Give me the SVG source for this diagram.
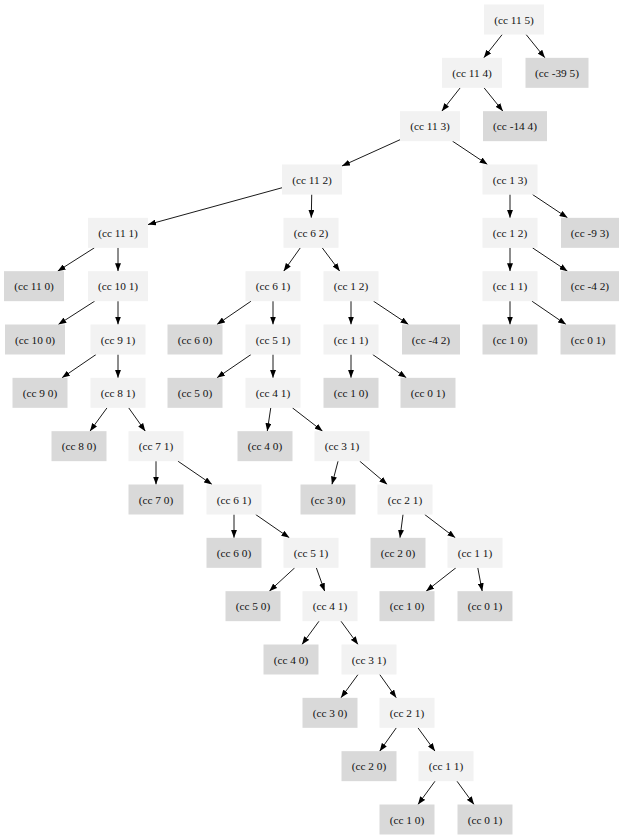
<svg xmlns="http://www.w3.org/2000/svg" width="623" height="840" viewBox="0 0 623 840" font-family="'Liberation Serif', 'Times New Roman', serif" font-size="11.3">
<style>
rect{stroke:none}
.i rect{fill:#f2f2f2}
.l rect{fill:#d9d9d9}
text{font-family:'Liberation Serif','Times New Roman',serif;font-size:11.3px;fill:#111;text-anchor:middle}
#edges line{stroke:#000;stroke-width:0.9;marker-end:url(#a)}
</style>
<defs>
<marker id="a" markerWidth="8" markerHeight="6" refX="8" refY="3" orient="auto" markerUnits="userSpaceOnUse"><path d="M0,0 L8,3 L0,6 z" fill="#000"/></marker>
</defs>
<rect x="0" y="0" width="623" height="840" fill="#fff"/>
<g id="edges">
<line x1="502.19" y1="34.5" x2="483.81" y2="57.83"/>
<line x1="526.09" y1="34.5" x2="544.91" y2="57.83"/>
<line x1="460.19" y1="87.83" x2="441.81" y2="111.17"/>
<line x1="484.09" y1="87.83" x2="502.91" y2="111.17"/>
<line x1="400" y1="139.73" x2="342" y2="165.94"/>
<line x1="452.5" y1="141.17" x2="487.5" y2="164.5"/>
<line x1="282" y1="187.75" x2="148" y2="224.58"/>
<line x1="311.72" y1="194.5" x2="311.28" y2="217.83"/>
<line x1="510" y1="194.5" x2="510" y2="217.83"/>
<line x1="532.5" y1="194.5" x2="567.5" y2="217.83"/>
<line x1="94.37" y1="247.83" x2="57.63" y2="271.17"/>
<line x1="118" y1="247.83" x2="118" y2="271.17"/>
<line x1="300.31" y1="247.83" x2="283.69" y2="271.17"/>
<line x1="322.25" y1="247.83" x2="339.75" y2="271.17"/>
<line x1="510" y1="247.83" x2="510" y2="271.17"/>
<line x1="532.5" y1="247.83" x2="567.5" y2="271.17"/>
<line x1="94.66" y1="301.17" x2="58.34" y2="324.5"/>
<line x1="118" y1="301.17" x2="118" y2="324.5"/>
<line x1="251.06" y1="301.17" x2="216.94" y2="324.5"/>
<line x1="273" y1="301.17" x2="273" y2="324.5"/>
<line x1="351" y1="301.17" x2="351" y2="324.5"/>
<line x1="373.5" y1="301.17" x2="408.5" y2="324.5"/>
<line x1="510" y1="301.17" x2="510" y2="324.5"/>
<line x1="531.94" y1="301.17" x2="566.06" y2="324.5"/>
<line x1="96.06" y1="354.5" x2="61.94" y2="377.83"/>
<line x1="118" y1="354.5" x2="118" y2="377.83"/>
<line x1="251.06" y1="354.5" x2="216.94" y2="377.83"/>
<line x1="273" y1="354.5" x2="273" y2="377.83"/>
<line x1="351" y1="354.5" x2="351" y2="377.83"/>
<line x1="372.66" y1="354.5" x2="406.34" y2="377.83"/>
<line x1="107.03" y1="407.83" x2="89.97" y2="431.17"/>
<line x1="128.69" y1="407.83" x2="145.31" y2="431.17"/>
<line x1="270.75" y1="407.83" x2="267.25" y2="431.17"/>
<line x1="292.41" y1="407.83" x2="322.59" y2="431.17"/>
<line x1="156" y1="461.17" x2="156" y2="484.5"/>
<line x1="177.94" y1="461.17" x2="212.06" y2="484.5"/>
<line x1="338.06" y1="461.17" x2="331.94" y2="484.5"/>
<line x1="359.72" y1="461.17" x2="387.28" y2="484.5"/>
<line x1="234" y1="514.5" x2="234" y2="537.83"/>
<line x1="255.66" y1="514.5" x2="289.34" y2="537.83"/>
<line x1="403.03" y1="514.5" x2="399.97" y2="537.83"/>
<line x1="424.69" y1="514.5" x2="455.31" y2="537.83"/>
<line x1="294.69" y1="567.83" x2="269.31" y2="591.17"/>
<line x1="316.34" y1="567.83" x2="324.66" y2="591.17"/>
<line x1="455.87" y1="567.83" x2="426.13" y2="591.17"/>
<line x1="477.81" y1="567.83" x2="482.19" y2="591.17"/>
<line x1="319.03" y1="621.17" x2="301.97" y2="644.5"/>
<line x1="340.97" y1="621.17" x2="358.03" y2="644.5"/>
<line x1="358.03" y1="674.5" x2="340.97" y2="697.83"/>
<line x1="379.69" y1="674.5" x2="396.31" y2="697.83"/>
<line x1="396.31" y1="727.83" x2="379.69" y2="751.17"/>
<line x1="417.97" y1="727.83" x2="435.03" y2="751.17"/>
<line x1="435.03" y1="781.17" x2="417.97" y2="804.5"/>
<line x1="456.97" y1="781.17" x2="474.03" y2="804.5"/>
</g>
<g id="n0" class="i"><rect x="484" y="4.5" width="60" height="30"/><text x="514" y="23.5">(cc 11 5)</text></g>
<g id="n1" class="i"><rect x="442" y="57.83" width="60" height="30"/><text x="472" y="76.8">(cc 11 4)</text></g>
<g id="n2" class="l"><rect x="525.5" y="57.83" width="63" height="30"/><text x="557" y="76.8">(cc -39 5)</text></g>
<g id="n3" class="i"><rect x="400" y="111.17" width="60" height="30"/><text x="430" y="130.2">(cc 11 3)</text></g>
<g id="n4" class="l"><rect x="483" y="111.17" width="64" height="30"/><text x="515" y="130.2">(cc -14 4)</text></g>
<g id="n5" class="i"><rect x="282" y="164.5" width="60" height="30"/><text x="312" y="183.5">(cc 11 2)</text></g>
<g id="n6" class="i"><rect x="482.5" y="164.5" width="55" height="30"/><text x="510" y="183.5">(cc 1 3)</text></g>
<g id="n7" class="i"><rect x="88" y="217.83" width="60" height="30"/><text x="118" y="236.8">(cc 11 1)</text></g>
<g id="n8" class="i"><rect x="283.5" y="217.83" width="55" height="30"/><text x="311" y="236.8">(cc 6 2)</text></g>
<g id="n9" class="i"><rect x="482.5" y="217.83" width="55" height="30"/><text x="510" y="236.8">(cc 1 2)</text></g>
<g id="n10" class="l"><rect x="561" y="217.83" width="58" height="30"/><text x="590" y="236.8">(cc -9 3)</text></g>
<g id="n11" class="l"><rect x="4" y="271.17" width="60" height="30"/><text x="34" y="290.2">(cc 11 0)</text></g>
<g id="n12" class="i"><rect x="88" y="271.17" width="60" height="30"/><text x="118" y="290.2">(cc 10 1)</text></g>
<g id="n13" class="i"><rect x="245.5" y="271.17" width="55" height="30"/><text x="273" y="290.2">(cc 6 1)</text></g>
<g id="n14" class="i"><rect x="323.5" y="271.17" width="55" height="30"/><text x="351" y="290.2">(cc 1 2)</text></g>
<g id="n15" class="i"><rect x="482.5" y="271.17" width="55" height="30"/><text x="510" y="290.2">(cc 1 1)</text></g>
<g id="n16" class="l"><rect x="561" y="271.17" width="58" height="30"/><text x="590" y="290.2">(cc -4 2)</text></g>
<g id="n17" class="l"><rect x="5" y="324.5" width="60" height="30"/><text x="35" y="343.5">(cc 10 0)</text></g>
<g id="n18" class="i"><rect x="90.5" y="324.5" width="55" height="30"/><text x="118" y="343.5">(cc 9 1)</text></g>
<g id="n19" class="l"><rect x="167.5" y="324.5" width="55" height="30"/><text x="195" y="343.5">(cc 6 0)</text></g>
<g id="n20" class="i"><rect x="245.5" y="324.5" width="55" height="30"/><text x="273" y="343.5">(cc 5 1)</text></g>
<g id="n21" class="i"><rect x="323.5" y="324.5" width="55" height="30"/><text x="351" y="343.5">(cc 1 1)</text></g>
<g id="n22" class="l"><rect x="402" y="324.5" width="58" height="30"/><text x="431" y="343.5">(cc -4 2)</text></g>
<g id="n23" class="l"><rect x="482.5" y="324.5" width="55" height="30"/><text x="510" y="343.5">(cc 1 0)</text></g>
<g id="n24" class="l"><rect x="560.5" y="324.5" width="55" height="30"/><text x="588" y="343.5">(cc 0 1)</text></g>
<g id="n25" class="l"><rect x="12.5" y="377.83" width="55" height="30"/><text x="40" y="396.8">(cc 9 0)</text></g>
<g id="n26" class="i"><rect x="90.5" y="377.83" width="55" height="30"/><text x="118" y="396.8">(cc 8 1)</text></g>
<g id="n27" class="l"><rect x="167.5" y="377.83" width="55" height="30"/><text x="195" y="396.8">(cc 5 0)</text></g>
<g id="n28" class="i"><rect x="245.5" y="377.83" width="55" height="30"/><text x="273" y="396.8">(cc 4 1)</text></g>
<g id="n29" class="l"><rect x="323.5" y="377.83" width="55" height="30"/><text x="351" y="396.8">(cc 1 0)</text></g>
<g id="n30" class="l"><rect x="400.5" y="377.83" width="55" height="30"/><text x="428" y="396.8">(cc 0 1)</text></g>
<g id="n31" class="l"><rect x="51.5" y="431.17" width="55" height="30"/><text x="79" y="450.2">(cc 8 0)</text></g>
<g id="n32" class="i"><rect x="128.5" y="431.17" width="55" height="30"/><text x="156" y="450.2">(cc 7 1)</text></g>
<g id="n33" class="l"><rect x="237.5" y="431.17" width="55" height="30"/><text x="265" y="450.2">(cc 4 0)</text></g>
<g id="n34" class="i"><rect x="314.5" y="431.17" width="55" height="30"/><text x="342" y="450.2">(cc 3 1)</text></g>
<g id="n35" class="l"><rect x="128.5" y="484.5" width="55" height="30"/><text x="156" y="503.5">(cc 7 0)</text></g>
<g id="n36" class="i"><rect x="206.5" y="484.5" width="55" height="30"/><text x="234" y="503.5">(cc 6 1)</text></g>
<g id="n37" class="l"><rect x="300.5" y="484.5" width="55" height="30"/><text x="328" y="503.5">(cc 3 0)</text></g>
<g id="n38" class="i"><rect x="377.5" y="484.5" width="55" height="30"/><text x="405" y="503.5">(cc 2 1)</text></g>
<g id="n39" class="l"><rect x="206.5" y="537.83" width="55" height="30"/><text x="234" y="556.8">(cc 6 0)</text></g>
<g id="n40" class="i"><rect x="283.5" y="537.83" width="55" height="30"/><text x="311" y="556.8">(cc 5 1)</text></g>
<g id="n41" class="l"><rect x="370.5" y="537.83" width="55" height="30"/><text x="398" y="556.8">(cc 2 0)</text></g>
<g id="n42" class="i"><rect x="447.5" y="537.83" width="55" height="30"/><text x="475" y="556.8">(cc 1 1)</text></g>
<g id="n43" class="l"><rect x="225.5" y="591.17" width="55" height="30"/><text x="253" y="610.2">(cc 5 0)</text></g>
<g id="n44" class="i"><rect x="302.5" y="591.17" width="55" height="30"/><text x="330" y="610.2">(cc 4 1)</text></g>
<g id="n45" class="l"><rect x="379.5" y="591.17" width="55" height="30"/><text x="407" y="610.2">(cc 1 0)</text></g>
<g id="n46" class="l"><rect x="457.5" y="591.17" width="55" height="30"/><text x="485" y="610.2">(cc 0 1)</text></g>
<g id="n47" class="l"><rect x="263.5" y="644.5" width="55" height="30"/><text x="291" y="663.5">(cc 4 0)</text></g>
<g id="n48" class="i"><rect x="341.5" y="644.5" width="55" height="30"/><text x="369" y="663.5">(cc 3 1)</text></g>
<g id="n49" class="l"><rect x="302.5" y="697.83" width="55" height="30"/><text x="330" y="716.8">(cc 3 0)</text></g>
<g id="n50" class="i"><rect x="379.5" y="697.83" width="55" height="30"/><text x="407" y="716.8">(cc 2 1)</text></g>
<g id="n51" class="l"><rect x="341.5" y="751.17" width="55" height="30"/><text x="369" y="770.2">(cc 2 0)</text></g>
<g id="n52" class="i"><rect x="418.5" y="751.17" width="55" height="30"/><text x="446" y="770.2">(cc 1 1)</text></g>
<g id="n53" class="l"><rect x="379.5" y="804.5" width="55" height="30"/><text x="407" y="823.5">(cc 1 0)</text></g>
<g id="n54" class="l"><rect x="457.5" y="804.5" width="55" height="30"/><text x="485" y="823.5">(cc 0 1)</text></g>
</svg>
